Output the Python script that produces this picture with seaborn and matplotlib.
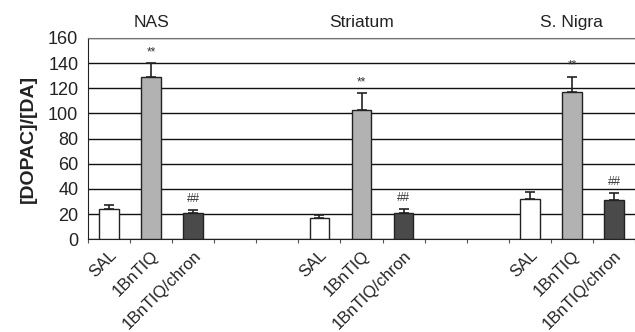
import matplotlib
matplotlib.use("Agg")
import matplotlib.pyplot as plt
import numpy as np
import pandas as pd
import seaborn as sns

regions = ["NAS", "Striatum", "S. Nigra"]
treatments = ["SAL", "1BnTIQ", "1BnTIQ/chron"]
means = {
    "NAS": [24, 129, 21],
    "Striatum": [17, 103, 21],
    "S. Nigra": [32, 117, 31],
}
errors = {
    "NAS": [3, 11, 2],
    "Striatum": [2, 13, 3],
    "S. Nigra": [6, 12, 6],
}
marks = ["", "**", "##"]
colors = {"SAL": "#ffffff", "1BnTIQ": "#b2b2b2", "1BnTIQ/chron": "#4a4a4a"}

# slots along the axis: 3 bars per region, 2 empty slots between regions
slots = []
for i, r in enumerate(regions):
    for t in treatments:
        slots.append(f"{r}|{t}")
    if i < len(regions) - 1:
        slots += [f"gap{i}a", f"gap{i}b"]

rows = []
for r in regions:
    for t, m, e in zip(treatments, means[r], errors[r]):
        rows.append({"slot": f"{r}|{t}", "region": r, "treatment": t, "mean": m, "err": e})
df = pd.DataFrame(rows)

sns.set_style("white")
plt.rcParams["font.family"] = ["Liberation Sans", "DejaVu Sans"]

fig = plt.figure(figsize=(6.35, 3.32), dpi=100)
ax = fig.add_axes([0.1386, 0.279, 0.8614, 0.607])

sns.barplot(data=df, x="slot", y="mean", hue="treatment", palette=colors,
            order=slots, hue_order=treatments, dodge=False, width=0.47,
            edgecolor="#222222", linewidth=1.0, errorbar=None, legend=False,
            ax=ax, zorder=3)

pos = {s: i for i, s in enumerate(slots)}
x = df["slot"].map(pos).to_numpy()
ax.errorbar(x, df["mean"], yerr=[np.zeros(len(df)), df["err"]], fmt="none",
            ecolor="#222222", elinewidth=1.2, capsize=3.5, capthick=1.2, zorder=4)

for xi, (_, row) in zip(x, df.iterrows()):
    mk = marks[treatments.index(row["treatment"])]
    if mk:
        ax.text(xi, row["mean"] + row["err"] + 4, mk, ha="center", va="bottom",
                fontsize=8.5, color="#333333")

for r in regions:
    c = pos[f"{r}|1BnTIQ"]
    ax.text(c, 166, r, ha="center", va="bottom", fontsize=12.5, color="#222222")

ax.set_xlim(-0.5, len(slots) - 0.5)
ax.set_ylim(0, 160)
ax.set_yticks(np.arange(0, 161, 20))
ax.tick_params(axis="y", labelsize=13, length=0, pad=7, labelcolor="#222222")
ax.yaxis.grid(True, color="#111111", linewidth=1.0, zorder=0)
ax.set_axisbelow(True)

ax.set_xticks(x)
ax.set_xticklabels(df["treatment"], rotation=45, ha="right", rotation_mode="anchor",
                   fontsize=12, color="#222222")
ax.tick_params(axis="x", length=0, pad=6)
ax.set_xticks(np.arange(-0.5, len(slots), 1.0), minor=True)
ax.tick_params(axis="x", which="minor", length=3, width=0.8, color="#555555", direction="out", bottom=True)

ax.set_xlabel("")
ax.set_ylabel("[DOPAC]/[DA]", fontsize=14, fontweight="bold", color="#222222", labelpad=8)

ax.spines["right"].set_visible(False)
ax.spines["top"].set_color("#777777")
ax.spines["left"].set_color("#222222")
ax.spines["bottom"].set_color("#222222")

fig.savefig("out.png", dpi=100)
